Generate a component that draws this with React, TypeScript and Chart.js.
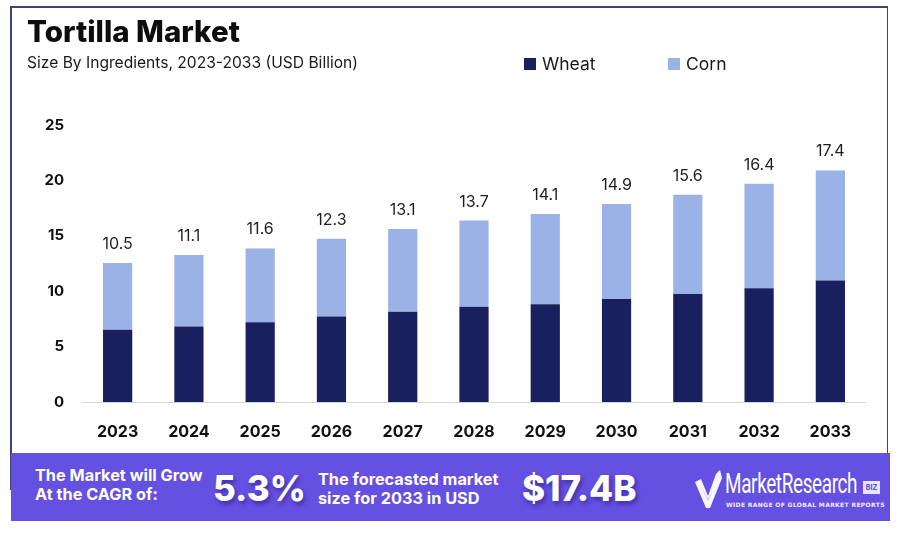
import React, { useEffect, useRef } from "react";
import { Chart, registerables } from "chart.js";

Chart.register(...registerables);

const years = ["2023", "2024", "2025", "2026", "2027", "2028", "2029", "2030", "2031", "2032", "2033"];
const wheat = [6.51, 6.81, 7.2, 7.71, 8.14, 8.59, 8.83, 9.3, 9.75, 10.26, 10.96];
const corn = [6.03, 6.45, 6.66, 7.03, 7.47, 7.78, 8.14, 8.56, 8.95, 9.44, 9.94];
const totalLabels = ["10.5", "11.1", "11.6", "12.3", "13.1", "13.7", "14.1", "14.9", "15.6", "16.4", "17.4"];
const seriesNames = ["Wheat", "Corn"];
const yMin = 0;
const yMax = 25;
const yStep = 5;

const WHEAT_COLOR = "#19205f";
const CORN_COLOR = "#9ab2e5";
const FONT = "Inter, 'Noto Sans', sans-serif";

const topLabelPlugin = {
  id: "topLabels",
  afterDatasetsDraw(chart: any) {
    const meta = chart.getDatasetMeta(1);
    const ctx = chart.ctx;
    ctx.save();
    ctx.font = "400 16px " + FONT;
    ctx.fillStyle = "#1e1e1e";
    ctx.textAlign = "center";
    ctx.textBaseline = "alphabetic";
    meta.data.forEach((el: any, i: number) => {
      ctx.fillText(totalLabels[i], el.x, el.y - 14);
    });
    ctx.restore();
  },
};

function ChartCanvas() {
  const ref = useRef<HTMLCanvasElement | null>(null);
  useEffect(() => {
    if (!ref.current) return;
    const chart = new Chart(ref.current, {
      type: "bar",
      data: {
        labels: years,
        datasets: [
          {
            label: seriesNames[0],
            data: wheat,
            backgroundColor: WHEAT_COLOR,
            borderWidth: 0,
            barPercentage: 0.41,
            categoryPercentage: 1,
          },
          {
            label: seriesNames[1],
            data: corn,
            backgroundColor: CORN_COLOR,
            borderWidth: 0,
            barPercentage: 0.41,
            categoryPercentage: 1,
          },
        ],
      },
      options: {
        animation: false,
        responsive: false,
        maintainAspectRatio: false,
        layout: { padding: { top: 125, right: 34, left: 0, bottom: 0 } },
        plugins: {
          legend: { display: false },
          tooltip: { enabled: false },
          title: { display: false },
        },
        scales: {
          x: {
            stacked: true,
            grid: { display: false, drawTicks: false },
            border: { display: true, color: "#d6d6d6", width: 1 },
            ticks: {
              color: "#111111",
              font: { family: FONT, size: 16, weight: "bold" },
              padding: 21,
              maxRotation: 0,
            },
            afterFit(scale: any) {
              scale.height = 48;
            },
          },
          y: {
            stacked: true,
            min: yMin,
            max: yMax,
            grid: { display: false, drawTicks: false },
            border: { display: false },
            ticks: {
              stepSize: yStep,
              color: "#111111",
              font: { family: FONT, size: 15, weight: "bold" },
              padding: 18,
            },
            afterFit(scale: any) {
              scale.width = 82;
            },
          },
        },
      },
      plugins: [topLabelPlugin],
    });
    return () => chart.destroy();
  }, []);
  return (
    <canvas
      ref={ref}
      width={900}
      height={450}
      style={{ position: "absolute", left: 0, top: 0, width: 900, height: 450 }}
    />
  );
}

function Logo() {
  return (
    <div style={{ position: "absolute", left: 694, top: 466, width: 200, height: 50 }}>
      <svg width="30" height="40" viewBox="0 0 30 40" style={{ position: "absolute", left: 0, top: 4 }}>
        <path d="M1 12 L7 9 L14 26 L22 4 L26 0 L28 8 L16 38 L12 38 Z" fill="#ffffff" opacity="0.95" />
        <path d="M7 16 L14 32 L19 21 L14 28 Z" fill="#d9d3fb" />
      </svg>
      <div
        style={{
          position: "absolute",
          left: 31,
          top: 4,
          color: "#fff",
          fontFamily: "Roboto, sans-serif",
          fontSize: 27,
          fontWeight: 400,
          lineHeight: "28px",
          transform: "scaleX(0.7)",
          transformOrigin: "left top",
          whiteSpace: "nowrap",
          letterSpacing: -0.5,
        }}
      >
        MarketResearch
      </div>
      <div
        style={{
          position: "absolute",
          left: 169,
          top: 15,
          width: 17,
          height: 13,
          background: "#e9e6fb",
          color: "#6450e1",
          fontFamily: FONT,
          fontWeight: 800,
          fontSize: 7,
          lineHeight: "13px",
          textAlign: "center",
        }}
      >
        BIZ
      </div>
      <div
        style={{
          position: "absolute",
          left: 32,
          top: 35,
          color: "#f1efff",
          fontFamily: "'DejaVu Sans', sans-serif",
          fontSize: 6,
          fontWeight: 700,
          letterSpacing: 0.35,
          whiteSpace: "nowrap",
        }}
      >
        WIDE RANGE OF GLOBAL MARKET REPORTS
      </div>
    </div>
  );
}

export default function App() {
  const legendItem = (color: string, text: string, left: number) => (
    <div style={{ position: "absolute", left, top: 54, height: 20, display: "flex", alignItems: "center" }}>
      <div style={{ width: 12, height: 12, background: color, marginRight: 6 }} />
      <span style={{ fontFamily: FONT, fontSize: 17.5, color: "#1a1a1a", lineHeight: "20px" }}>{text}</span>
    </div>
  );
  const bigText = {
    position: "absolute" as const,
    color: "#ffffff",
    fontFamily: FONT,
    fontWeight: 800,
    fontSize: 35,
    lineHeight: "40px",
    textShadow: "2px 3px 4px rgba(40,20,120,0.55)",
    whiteSpace: "nowrap" as const,
  };
  const smallText = {
    position: "absolute" as const,
    color: "#ffffff",
    fontFamily: FONT,
    fontWeight: 700,
    fontSize: 16.3,
    lineHeight: "19px",
    whiteSpace: "nowrap" as const,
  };
  return (
    <div
      style={{
        position: "absolute",
        left: 0,
        top: 0,
        width: 900,
        height: 549,
        background: "#ffffff",
        overflow: "hidden",
      }}
    >
      {/* frame */}
      <div style={{ position: "absolute", left: 10, top: 6, width: 878, height: 1.5, background: "#3b4577" }} />
      <div style={{ position: "absolute", left: 10, top: 6, width: 1.5, height: 484, background: "#3b4577" }} />
      <div style={{ position: "absolute", left: 886.5, top: 6, width: 1.5, height: 448, background: "#3b4577" }} />

      <ChartCanvas />

      <div
        style={{
          position: "absolute",
          left: 27,
          top: 13,
          fontFamily: FONT,
          fontWeight: 800,
          fontSize: 29.5,
          lineHeight: "36px",
          color: "#0d0d0d",
          whiteSpace: "nowrap",
        }}
      >
        Tortilla Market
      </div>
      <div
        style={{
          position: "absolute",
          left: 27,
          top: 53,
          fontFamily: FONT,
          fontSize: 15.6,
          lineHeight: "20px",
          color: "#1a1a1a",
          whiteSpace: "nowrap",
        }}
      >
        Size By Ingredients, 2023-2033 (USD Billion)
      </div>
      {legendItem(WHEAT_COLOR, seriesNames[0], 524)}
      {legendItem(CORN_COLOR, seriesNames[1], 668)}

      {/* banner */}
      <div style={{ position: "absolute", left: 11, top: 453, width: 879, height: 68, background: "#6450e1" }}>
        <div style={{ ...smallText, left: 24, top: 13 }}>The Market will Grow</div>
        <div style={{ ...smallText, left: 24, top: 32 }}>At the CAGR of:</div>
        <div style={{ ...bigText, left: 202, top: 15 }}>5.3%</div>
        <div style={{ ...smallText, left: 307, top: 17 }}>The forecasted market</div>
        <div style={{ ...smallText, left: 307, top: 36 }}>size for 2033 in USD</div>
        <div style={{ ...bigText, left: 511, top: 15 }}>$17.4B</div>
      </div>
      <Logo />
    </div>
  );
}
